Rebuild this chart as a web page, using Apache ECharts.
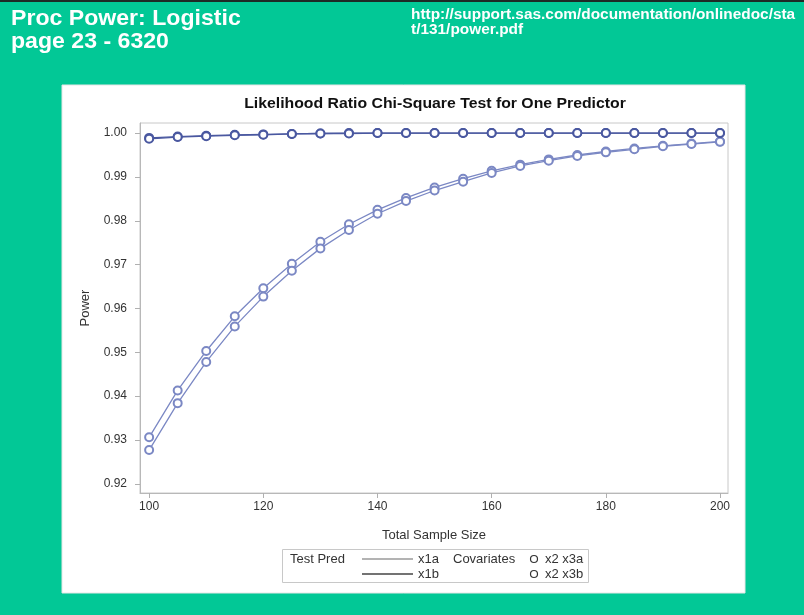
<!DOCTYPE html>
<html lang="en">
<head>
    <meta charset="UTF-8">
    <title>Proc Power: Logistic</title>
    <script src="https://cdn.jsdelivr.net/npm/echarts@6/dist/echarts.min.js"></script>
    <style>
        html, body { margin: 0; padding: 0; background: #02c896; }
        #ChartId { width: 804px; height: 615px; }
    </style>
</head>
<body>
<div id="ChartId"></div>
<script>
    // total sample size (x)
    var sampleSize = [100, 105, 110, 115, 120, 125, 130, 135, 140, 145, 150,
                      155, 160, 165, 170, 175, 180, 185, 190, 195, 200];
    // power values
    var powerTopA = [0.9989, 0.9992, 0.9994, 0.9996, 0.9997, 0.9998, 0.9999, 1.0000, 1.0000, 1.0000, 1.0000,
                     1.0000, 1.0000, 1.0000, 1.0000, 1.0000, 1.0000, 1.0000, 1.0000, 1.0000, 1.0000];
    var powerTopB = [0.9987, 0.9991, 0.9993, 0.9995, 0.9996, 0.9998, 0.9999, 0.9999, 1.0000, 1.0000, 1.0000,
                     1.0000, 1.0000, 1.0000, 1.0000, 1.0000, 1.0000, 1.0000, 1.0000, 1.0000, 1.0000];
    var powerLowA = [0.9306, 0.9413, 0.9503, 0.9582, 0.9646, 0.9702, 0.9752, 0.9792, 0.9825, 0.9852, 0.9876,
                     0.9896, 0.9914, 0.9928, 0.9940, 0.9950, 0.9958, 0.9965, 0.9971, 0.9976, 0.9981];
    var powerLowB = [0.9277, 0.9384, 0.9478, 0.9559, 0.9627, 0.9686, 0.9737, 0.9779, 0.9816, 0.9845, 0.9869,
                     0.9889, 0.9909, 0.9925, 0.9937, 0.9948, 0.9956, 0.9963, 0.9970, 0.9975, 0.9980];
    var xTicks = [100, 120, 140, 160, 180, 200];
    var yTicks = [0.92, 0.93, 0.94, 0.95, 0.96, 0.97, 0.98, 0.99, 1.00];

    function pairs(ys) {
        var out = [];
        for (var i = 0; i < sampleSize.length; i++) out.push([sampleSize[i], ys[i]]);
        return out;
    }

    var FONT = '"Liberation Sans", Arial, sans-serif';

    function makeSeries(name, ys, color) {
        return {
            name: name,
            type: 'line',
            data: pairs(ys),
            symbol: 'emptyCircle',
            symbolSize: 8,
            lineStyle: { color: color, width: 1.3 },
            itemStyle: { color: color, borderColor: color, borderWidth: 1.3 },
            emphasis: { disabled: true },
            animation: false
        };
    }

    function legendText(x, y, s) {
        return { type: 'text', x: x, y: y, style: { text: s, font: '13px ' + FONT, fill: '#333', verticalAlign: 'middle' } };
    }

    // the screenshot is a little stretched sideways, so the header texts are widened a bit
    function wideText(x, y, s, size, color, align, sx) {
        return {
            type: 'text', x: x, y: y, scaleX: sx, silent: true,
            style: { text: s, font: 'bold ' + size + 'px ' + FONT, fill: color, align: align, verticalAlign: 'middle' }
        };
    }

    var myChart = echarts.init(document.getElementById('ChartId'));
    var option = {
        backgroundColor: '#02c896',
        animation: false,
        grid: {
            left: 140, right: 76, top: 123, bottom: 122,
            show: true, borderColor: '#c8c8c8', borderWidth: 1, backgroundColor: '#fff'
        },
        xAxis: {
            type: 'value',
            min: 98.4, max: 201.4,
            name: 'Total Sample Size',
            nameLocation: 'middle', nameGap: 36,
            nameTextStyle: { fontFamily: FONT, fontSize: 13, color: '#333' },
            axisLine: { show: true, lineStyle: { color: '#b8b8b8' } },
            axisTick: { show: true, length: 5, customValues: xTicks, lineStyle: { color: '#b0b0b0' } },
            axisLabel: { customValues: xTicks, fontFamily: FONT, fontSize: 12, color: '#333', margin: 8 },
            splitLine: { show: false }
        },
        yAxis: {
            type: 'value',
            min: 0.9179, max: 1.0023,
            name: 'Power',
            nameLocation: 'middle', nameGap: 48,
            nameTextStyle: { fontFamily: FONT, fontSize: 13, color: '#333' },
            axisLine: { show: true, lineStyle: { color: '#b8b8b8' } },
            axisTick: { show: true, length: 5, customValues: yTicks, lineStyle: { color: '#b0b0b0' } },
            axisLabel: {
                customValues: yTicks, fontFamily: FONT, fontSize: 12, color: '#333', margin: 13,
                formatter: function (v) { return v.toFixed(2); }
            },
            splitLine: { show: false }
        },
        graphic: [
            { type: 'rect', z: -10, silent: true, shape: { x: 0, y: 0, width: 804, height: 2 }, style: { fill: '#1e2a26' } },
            {
                type: 'rect', z: -10, silent: true,
                shape: { x: 62, y: 85, width: 683, height: 508 },
                style: { fill: '#ffffff', stroke: '#e6e6e6', lineWidth: 1 }
            },
            wideText(11, 19, 'Proc Power: Logistic', 22, '#ffffff', 'left', 1.05),
            wideText(11, 42, 'page 23 - 6320', 22, '#ffffff', 'left', 1.05),
            wideText(411, 15.5, 'http://support.sas.com/documentation/onlinedoc/sta', 14, '#ffffff', 'left', 1.1),
            wideText(411, 30, 't/131/power.pdf', 14, '#ffffff', 'left', 1.1),
            wideText(435, 104, 'Likelihood Ratio Chi-Square Test for One Predictor', 14.5, '#111111', 'center', 1.09),
            {
                // legend box
                type: 'group', silent: true,
                children: [
                    { type: 'rect', shape: { x: 282.5, y: 549.5, width: 306, height: 33 },
                      style: { fill: '#fff', stroke: '#c8c8c8', lineWidth: 1 } },
                    legendText(290, 559, 'Test Pred'),
                    { type: 'line', shape: { x1: 362, y1: 559, x2: 413, y2: 559 }, style: { stroke: '#9a9a9a', lineWidth: 1.5 } },
                    legendText(418, 559, 'x1a'),
                    legendText(453, 559, 'Covariates'),
                    { type: 'circle', shape: { cx: 534, cy: 559, r: 3.5 }, style: { fill: 'none', stroke: '#333', lineWidth: 1.2 } },
                    legendText(545, 559, 'x2 x3a'),
                    { type: 'line', shape: { x1: 362, y1: 574, x2: 413, y2: 574 }, style: { stroke: '#444', lineWidth: 1.5 } },
                    legendText(418, 574, 'x1b'),
                    { type: 'circle', shape: { cx: 534, cy: 574, r: 3.5 }, style: { fill: 'none', stroke: '#333', lineWidth: 1.2 } },
                    legendText(545, 574, 'x2 x3b')
                ]
            }
        ],
        series: [
            makeSeries('x1a x2 x3a', powerLowA, '#7b88c4'),
            makeSeries('x1a x2 x3b', powerLowB, '#7b88c4'),
            makeSeries('x1b x2 x3a', powerTopA, '#4a58a0'),
            makeSeries('x1b x2 x3b', powerTopB, '#4a58a0')
        ]
    };
    myChart.setOption(option, true);
</script>
</body>
</html>
